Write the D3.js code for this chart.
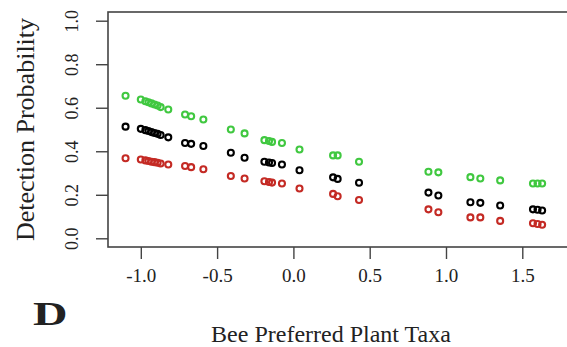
<!DOCTYPE html>
<html>
<head>
<meta charset="utf-8">
<script src="https://cdn.jsdelivr.net/npm/d3@7"></script>
<style>
  html, body { margin: 0; padding: 0; background: #fff; }
  svg { display: block; }
  text { font-family: "Liberation Serif", "DejaVu Serif", serif; fill: #222; }
</style>
</head>
<body>
<svg id="chart" width="567" height="347"></svg>
<script>
// Preferred plant taxa (standardised) and detection probability per group
const taxa = [-1.10, -1.00, -0.97, -0.95, -0.93, -0.91, -0.89, -0.87, -0.82,
              -0.71, -0.67, -0.59, -0.41, -0.32, -0.19, -0.16, -0.14, -0.075,
              0.04, 0.26, 0.29, 0.43, 0.885, 0.95, 1.16, 1.225, 1.355, 1.57, 1.60, 1.63];
const upper = [0.655, 0.638, 0.630, 0.625, 0.620, 0.615, 0.610, 0.603, 0.592,
               0.569, 0.561, 0.546, 0.500, 0.482, 0.451, 0.447, 0.443, 0.438,
               0.408, 0.381, 0.381, 0.352, 0.306, 0.303, 0.281, 0.275, 0.266, 0.252, 0.252, 0.252];
const mean  = [0.513, 0.503, 0.497, 0.493, 0.488, 0.484, 0.480, 0.475, 0.464,
               0.438, 0.434, 0.424, 0.393, 0.370, 0.352, 0.348, 0.346, 0.339,
               0.313, 0.280, 0.273, 0.255, 0.210, 0.197, 0.166, 0.163, 0.151, 0.133, 0.131, 0.128];
const lower = [0.368, 0.362, 0.358, 0.355, 0.352, 0.350, 0.347, 0.344, 0.339,
               0.332, 0.327, 0.317, 0.286, 0.275, 0.262, 0.259, 0.256, 0.252,
               0.229, 0.204, 0.193, 0.176, 0.133, 0.120, 0.096, 0.096, 0.080, 0.069, 0.066, 0.062];
const xTicks = [-1.0, -0.5, 0.0, 0.5, 1.0, 1.5];
const yTicks = [0.0, 0.2, 0.4, 0.6, 0.8, 1.0];

const series = [
  { name: "upper", values: upper, color: "#40c840" },
  { name: "mean",  values: mean,  color: "#000000" },
  { name: "lower", values: lower, color: "#c42a24" }
];

const svg = d3.select("#chart");
const plot = { left: 108, top: 12, right: 570, bottom: 247 };

const x = d3.scaleLinear().domain([-1.215, 1.793]).range([plot.left, 567]);
const y = d3.scaleLinear().domain([-0.04, 1.04]).range([plot.bottom, plot.top]);

const fmt = v => d3.format(".1f")(v).replace("\u2212", "-");

// plot frame
svg.append("rect")
  .attr("x", plot.left).attr("y", plot.top)
  .attr("width", plot.right - plot.left).attr("height", plot.bottom - plot.top)
  .attr("fill", "none").attr("stroke", "#444").attr("stroke-width", 1.6);

// x axis
const gx = svg.append("g")
  .attr("transform", `translate(0,${plot.bottom})`)
  .call(d3.axisBottom(x).tickValues(xTicks).tickFormat(fmt).tickSize(12).tickPadding(10));
gx.attr("font-family", "'Liberation Serif', serif");
gx.select(".domain").remove();
gx.selectAll(".tick line").attr("stroke", "#444").attr("stroke-width", 1.4);
gx.selectAll(".tick text").attr("font-size", 19).attr("fill", "#222");

// y axis with rotated labels
const gy = svg.append("g")
  .attr("transform", `translate(${plot.left},0)`)
  .call(d3.axisLeft(y).tickValues(yTicks).tickFormat(fmt).tickSize(12).tickPadding(0));
gy.attr("font-family", "'Liberation Serif', serif");
gy.select(".domain").remove();
gy.selectAll(".tick line").attr("stroke", "#444").attr("stroke-width", 1.4);
gy.selectAll(".tick text")
  .attr("font-size", 18).attr("fill", "#222")
  .attr("text-anchor", "middle")
  .attr("x", 0).attr("dy", 0)
  .attr("transform", "translate(-30,0) rotate(-90)");

// points
series.forEach(s => {
  svg.append("g").selectAll("circle")
    .data(taxa.map((t, i) => ({ t, p: s.values[i] })))
    .join("circle")
    .attr("cx", d => x(d.t))
    .attr("cy", d => y(d.p))
    .attr("r", 3)
    .attr("fill", "none")
    .attr("stroke", s.color)
    .attr("stroke-width", 2.1);
});

// axis titles
svg.append("text")
  .attr("x", 331).attr("y", 342)
  .attr("text-anchor", "middle").attr("font-size", 24)
  .text("Bee Preferred Plant Taxa");

svg.append("text")
  .attr("transform", `translate(34,${(15 + 244) / 2}) rotate(-90)`)
  .attr("text-anchor", "middle").attr("font-size", 26)
  .text("Detection Probability");

// panel letter
svg.append("text")
  .attr("transform", "translate(33,325) scale(1.45,1)")
  .attr("font-size", 33).attr("font-weight", "bold").attr("fill", "#111")
  .text("D");
</script>
</body>
</html>
